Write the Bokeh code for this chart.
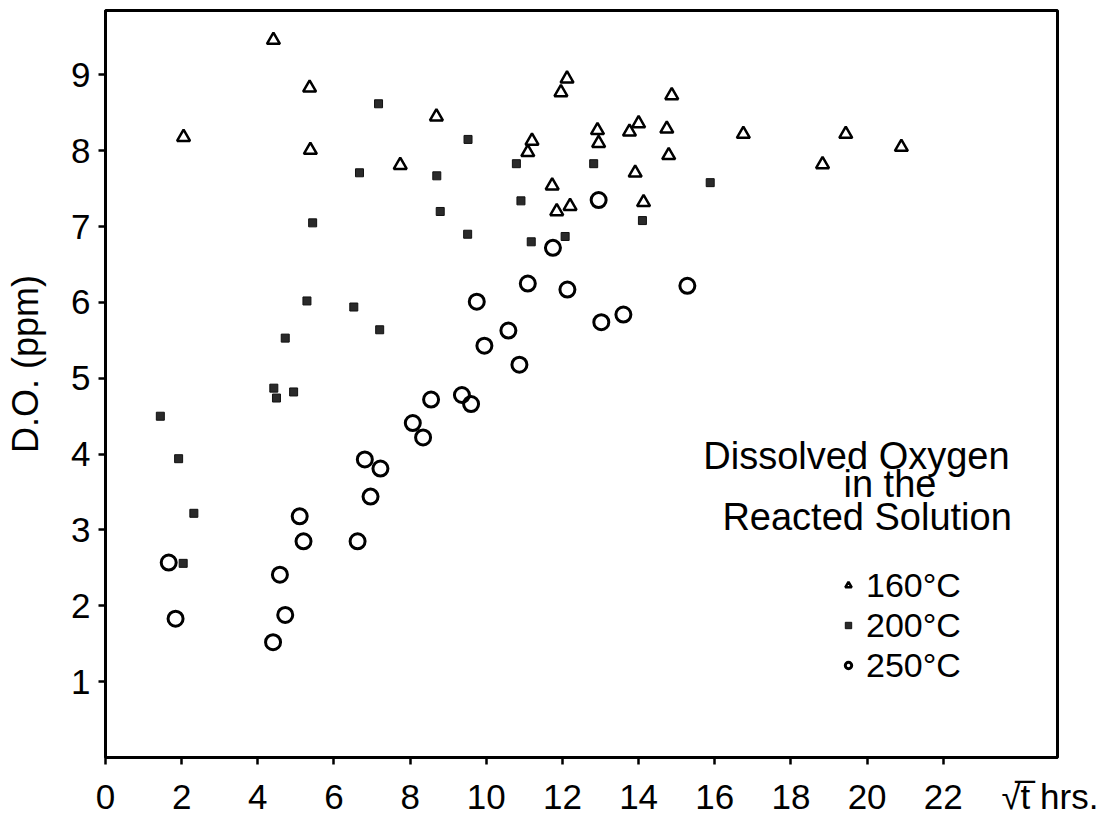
from bokeh.plotting import figure
from bokeh.models import Label, Legend, LegendItem, FixedTicker, Range1d
from bokeh.embed import file_html
from bokeh.resources import INLINE

# ---- data (sqrt t in hrs, dissolved oxygen in ppm) ----
t160_x = [2.05, 4.41, 5.36, 5.38, 7.74, 8.69, 11.2, 11.09, 11.73, 11.85, 11.96, 12.12,
          12.2, 12.92, 12.95, 13.76, 14.0, 13.91, 14.13, 14.74, 14.79, 14.87, 16.75,
          18.83, 19.44, 20.9]
t160_y = [8.18, 9.46, 8.83, 8.01, 7.81, 8.45, 8.13, 7.98, 7.54, 7.20, 8.77, 8.95,
          7.27, 8.27, 8.10, 8.25, 8.36, 7.71, 7.32, 8.29, 7.94, 8.73, 8.22,
          7.82, 8.22, 8.05]

t200_x = [1.44, 1.92, 2.32, 2.04, 4.42, 4.49, 4.94, 4.72, 5.29, 5.44, 6.52, 6.67,
          7.2, 7.17, 8.7, 8.79, 9.52, 9.51, 10.79, 10.91, 11.18, 12.07, 12.82,
          14.10, 15.88]
t200_y = [4.50, 3.94, 3.22, 2.56, 4.87, 4.74, 4.82, 5.53, 6.02, 7.05, 5.94, 7.71,
          5.64, 8.62, 7.67, 7.20, 8.15, 6.90, 7.83, 7.34, 6.80, 6.87, 7.83,
          7.08, 7.58]

t250_x = [1.66, 1.84, 4.4, 4.58, 4.72, 5.1, 5.2, 6.62, 6.81, 6.96, 7.22, 8.07, 8.34,
          8.55, 9.36, 9.6, 9.75, 9.95, 10.58, 10.87, 11.09, 11.75, 12.13, 12.95,
          13.02, 13.6, 15.28]
t250_y = [2.57, 1.83, 1.52, 2.41, 1.88, 3.18, 2.85, 2.85, 3.93, 3.44, 3.81, 4.41, 4.22,
          4.72, 4.78, 4.66, 6.01, 5.43, 5.63, 5.18, 6.25, 6.72, 6.17, 7.35,
          5.74, 5.84, 6.22]

x_ticks = [0, 2, 4, 6, 8, 10, 12, 14, 16, 18, 20, 22]
y_ticks = [1, 2, 3, 4, 5, 6, 7, 8, 9]
series_labels = ["160°C", "200°C", "250°C"]
x_title = "√t\u0305 hrs."
y_title = "D.O. (ppm)"
x_title_pos = 24.8   # the x-axis title sits in the tick-label row, right of "22"

FONT = "Liberation Sans"

p = figure(width=1115, height=825, x_range=Range1d(0, 25), y_range=Range1d(0, 9.85),
           output_backend="svg", toolbar_location=None,
           min_border_left=105, min_border_right=58, min_border_top=10,
           min_border_bottom=68, background_fill_color="white",
           border_fill_color="white")

p.grid.visible = False
p.outline_line_color = "black"
p.outline_line_width = 3

for ax in (p.xaxis, p.yaxis):
    ax.axis_line_width = 3
    ax.axis_line_color = "black"
    ax.major_label_text_font = FONT
    ax.major_label_text_font_size = "35px"
    ax.major_label_text_color = "black"

# x axis: visible tick marks are drawn as "minor" ticks, labels on (zero-length) majors
p.xaxis.ticker = FixedTicker(ticks=x_ticks + [x_title_pos], minor_ticks=x_ticks)
p.xaxis.major_label_overrides = {x_title_pos: x_title}
p.xaxis.major_tick_in = 0
p.xaxis.major_tick_out = 0
p.xaxis.minor_tick_in = 0
p.xaxis.minor_tick_out = 7
p.xaxis.minor_tick_line_width = 2.5
p.xaxis.minor_tick_line_color = "black"
p.xaxis.major_label_standoff = 12

p.yaxis.ticker = FixedTicker(ticks=y_ticks)
p.yaxis.major_tick_in = 0
p.yaxis.major_tick_out = 7
p.yaxis.major_tick_line_width = 2.5
p.yaxis.minor_tick_in = 0
p.yaxis.minor_tick_out = 0
p.yaxis.major_label_standoff = 8
p.yaxis.axis_label = "\u00a0\u00a0\u00a0\u00a0" + y_title
p.yaxis.axis_label_text_font = FONT
p.yaxis.axis_label_text_font_size = "36px"
p.yaxis.axis_label_text_font_style = "normal"
p.yaxis.axis_label_text_color = "black"
p.yaxis.axis_label_standoff = 22

r1 = p.scatter(t160_x, t160_y, marker="triangle", size=13, line_width=2.5,
               line_color="black", fill_color="white")
r2 = p.scatter(t200_x, t200_y, marker="square", size=8, line_width=1,
               line_color="#111111", fill_color="#2a2a2a")
r3 = p.scatter(t250_x, t250_y, marker="circle", size=15, line_width=3,
               line_color="black", fill_color=None)

legend = Legend(items=[LegendItem(label=series_labels[0], renderers=[r1]),
                       LegendItem(label=series_labels[1], renderers=[r2]),
                       LegendItem(label=series_labels[2], renderers=[r3])],
                location=(735, 72), border_line_color=None,
                background_fill_alpha=0, padding=0, margin=0, spacing=0,
                glyph_width=16, glyph_height=40, label_height=40,
                label_standoff=10, label_text_font=FONT,
                label_text_font_size="34px", label_text_color="black")
p.add_layout(legend)

def add_text(x, y, text, size="38px", **kw):
    lab = Label(x=x, y=y, text=text, text_font=FONT, text_font_size=size,
                text_color="black", **kw)
    p.add_layout(lab)
    return lab

add_text(15.7, 3.98, "Dissolved Oxygen", text_baseline="alphabetic")
add_text(19.38, 3.6, "in the", text_baseline="alphabetic")
add_text(16.2, 3.17, "Reacted Solution", text_baseline="alphabetic")

open("out.html", "w").write(file_html(p, INLINE))
